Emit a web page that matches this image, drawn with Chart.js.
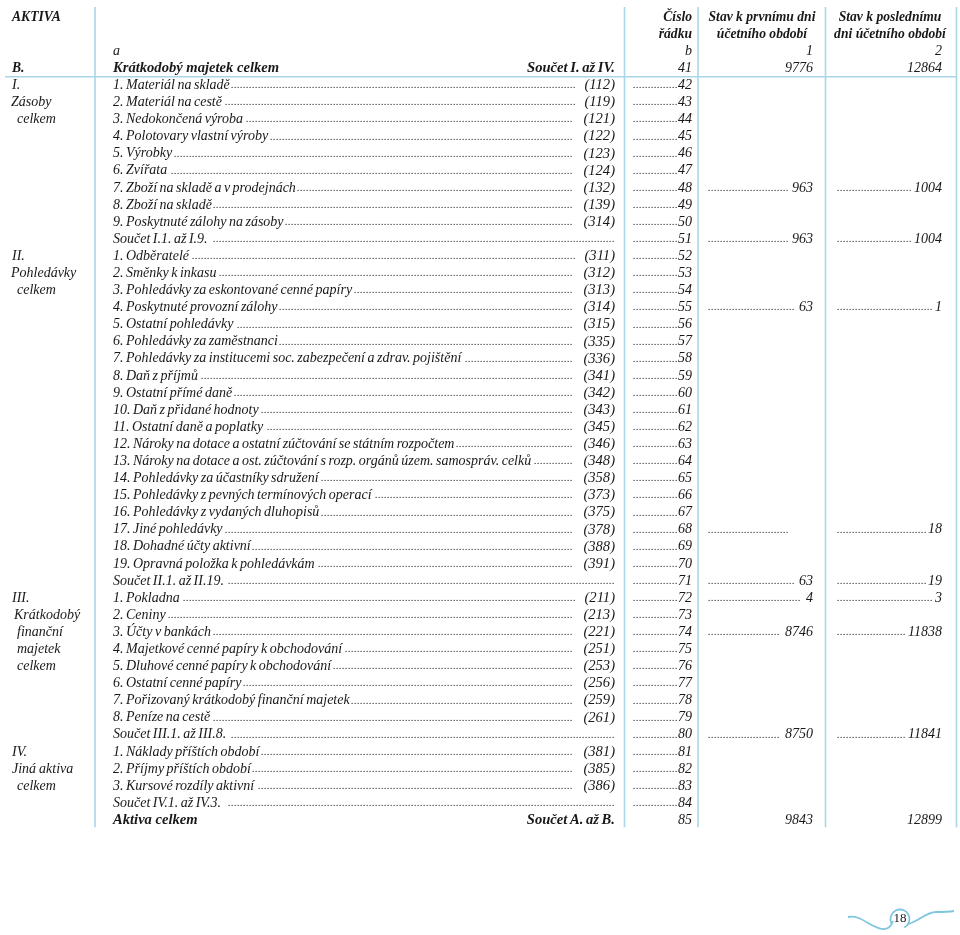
<!DOCTYPE html>
<html>
<head>
<meta charset="utf-8">
<script src="https://cdn.jsdelivr.net/npm/chart.js@4.4.0/dist/chart.umd.min.js"></script>
<style>
  html, body { margin: 0; padding: 0; background: #ffffff; }
  canvas { display: block; }
</style>
</head>
<body>
<canvas id="c" width="960" height="935"></canvas>
<script>
// ---------------- DATA (row 41 .. 85) ----------------
const rowNumbers = [41,42,43,44,45,46,47,48,49,50,51,52,53,54,55,56,57,58,59,60,61,62,63,
  64,65,66,67,68,69,70,71,72,73,74,75,76,77,78,79,80,81,82,83,84,85];

const sectionLabels = ['B.','I.','Zásoby','celkem','','','','','','','',
  'II.','Pohledávky','celkem','','','','','','','','','','','','','','','','','',
  'III.','Krátkodobý','finanční','majetek','celkem','','','','',
  'IV.','Jiná aktiva','celkem','',''];

const itemLabels = [
  'Krátkodobý majetek celkem',
  '1. Materiál na skladě',
  '2. Materiál na cestě',
  '3. Nedokončená výroba',
  '4. Polotovary vlastní výroby',
  '5. Výrobky',
  '6. Zvířata',
  '7. Zboží na skladě a v prodejnách',
  '8. Zboží na skladě',
  '9. Poskytnuté zálohy na zásoby',
  'Součet I.1. až I.9.',
  '1. Odběratelé',
  '2. Směnky k inkasu',
  '3. Pohledávky za eskontované cenné papíry',
  '4. Poskytnuté provozní zálohy',
  '5. Ostatní pohledávky',
  '6. Pohledávky za zaměstnanci',
  '7. Pohledávky za institucemi soc. zabezpečení a zdrav. pojištění',
  '8. Daň z příjmů',
  '9. Ostatní přímé daně',
  '10. Daň z přidané hodnoty',
  '11. Ostatní daně a poplatky',
  '12. Nároky na dotace a ostatní zúčtování se státním rozpočtem',
  '13. Nároky na dotace a ost. zúčtování s rozp. orgánů územ. samospráv. celků',
  '14. Pohledávky za účastníky sdružení',
  '15. Pohledávky z pevných termínových operací',
  '16. Pohledávky z vydaných dluhopisů',
  '17. Jiné pohledávky',
  '18. Dohadné účty aktivní',
  '19. Opravná položka k pohledávkám',
  'Součet II.1. až II.19.',
  '1. Pokladna',
  '2. Ceniny',
  '3. Účty v bankách',
  '4. Majetkové cenné papíry k obchodování',
  '5. Dluhové cenné papíry k obchodování',
  '6. Ostatní cenné papíry',
  '7. Pořizovaný krátkodobý finanční majetek',
  '8. Peníze na cestě',
  'Součet III.1. až III.8.',
  '1. Náklady příštích období',
  '2. Příjmy příštích období',
  '3. Kursové rozdíly aktivní',
  'Součet IV.1. až IV.3.',
  'Aktiva celkem'
];

const accountCodes = ['',
  '(112)','(119)','(121)','(122)','(123)','(124)','(132)','(139)','(314)','',
  '(311)','(312)','(313)','(314)','(315)','(335)','(336)','(341)','(342)','(343)','(345)',
  '(346)','(348)','(358)','(373)','(375)','(378)','(388)','(391)','',
  '(211)','(213)','(221)','(251)','(253)','(256)','(259)','(261)','',
  '(381)','(385)','(386)','',''];

const totalLabels = ['Součet I. až IV.','','','','','','','','','','','','','','','','','','','','','','',
  '','','','','','','','','','','','','','','','','','','','','','Součet A. až B.'];

// '' = leader dots without a value, null = empty cell
const firstPeriod = [9776, null,null,null,null,null,null, 963, null,null, 963,
  null,null,null, 63, null,null,null,null,null,null,null,null,null,null,null,null, '', null,null, 63,
  4, null, 8746, null,null,null,null,null, 8750,
  null,null,null,null, 9843];

const lastPeriod = [12864, null,null,null,null,null,null, 1004, null,null, 1004,
  null,null,null, 1, null,null,null,null,null,null,null,null,null,null,null,null, 18, null,null, 19,
  3, null, 11838, null,null,null,null,null, 11841,
  null,null,null,null, 12899];

// header texts
const headerAktiva = 'AKTIVA';
const headerColA = ['', '', 'a'];
const headerRowNo = ['Číslo', 'řádku', 'b'];
const headerFirst = ['Stav k prvnímu dni', 'účetního období', '1'];
const headerLast = ['Stav k poslednímu', 'dni účetního období', '2'];
const pageNumber = '18';

// ---------------- LAYOUT / STYLE ----------------
const rowKeys = ['h0', 'h1', 'h2'].concat(rowNumbers.map(String));
const FONT = '"Liberation Serif", "Times New Roman", serif';
const FS = 14;
const TEXT = '#1a1718';
const LINE = '#a9d7e7';
const COL = {
  section: 12, item: 113, codeRight: 615, itemDotsEnd: 616,
  rowDotsStart: 632, rowRight: 692,
  firstDotsStart: 708, firstRight: 813, firstCenter: 762,
  lastDotsStart: 835, lastRight: 942, lastCenter: 890,
  vlines: [95, 624.5, 698, 825.5, 956.5]
};
// per-label left offsets of the group captions (layout only)
const sectionIndent = { 'Zásoby': 11, 'celkem': 17, 'Pohledávky': 11, 'Krátkodobý': 14,
  'finanční': 17, 'majetek': 17, 'Jiná aktiva': 12 };

function drawDots(ctx, x0, x1, y) {
  ctx.save();
  ctx.font = 'italic 11px ' + FONT;
  ctx.textAlign = 'left';
  ctx.fillStyle = '#2a2627';
  const start = Math.ceil(x0 / 3) * 3;
  for (let x = start; x <= x1 - 2; x += 3) ctx.fillText('.', x, y);
  ctx.restore();
}

const tablePlugin = {
  id: 'tablePlugin',
  afterDraw(chart) {
    const ctx = chart.ctx;
    const xs = chart.scales.x, ys = chart.scales.y;
    const X = v => xs.getPixelForValue(v);
    const Y = key => ys.getPixelForValue(rowKeys.indexOf(key));
    const reg = 'italic ' + FS + 'px ' + FONT;
    const hbold = 'italic bold 13.6px ' + FONT;
    const bold = 'italic bold 14.6px ' + FONT;
    const codeFont = 'italic 14.6px ' + FONT;
    const setWS = v => { ctx.wordSpacing = v; };
    ctx.save();
    ctx.textBaseline = 'middle';
    ctx.fillStyle = TEXT;

    // grid lines
    ctx.strokeStyle = LINE;
    ctx.lineWidth = 1.6;
    const topY = Y('h0') - 10, botY = Y('85') + 7;
    COL.vlines.forEach(v => {
      ctx.beginPath(); ctx.moveTo(X(v), topY); ctx.lineTo(X(v), botY); ctx.stroke();
    });
    const hy = (Y('41') + Y('42')) / 2;
    ctx.beginPath(); ctx.moveTo(X(5), hy); ctx.lineTo(X(957), hy); ctx.stroke();

    // header
    setWS('0px');
    ctx.font = hbold; ctx.textAlign = 'left';
    ctx.fillText(headerAktiva, X(COL.section), Y('h0'));
    for (let i = 0; i < 3; i++) {
      const key = 'h' + i;
      ctx.font = i < 2 ? hbold : reg;
      if (headerColA[i]) { ctx.textAlign = 'left'; ctx.fillText(headerColA[i], X(COL.item), Y(key)); }
      ctx.textAlign = 'right'; ctx.fillText(headerRowNo[i], X(COL.rowRight), Y(key));
      if (i < 2) {
        ctx.textAlign = 'center';
        ctx.fillText(headerFirst[i], X(COL.firstCenter), Y(key));
        ctx.fillText(headerLast[i], X(COL.lastCenter), Y(key));
      } else {
        ctx.textAlign = 'right';
        ctx.fillText(headerFirst[i], X(COL.firstRight), Y(key));
        ctx.fillText(headerLast[i], X(COL.lastRight), Y(key));
      }
    }

    // body rows
    rowNumbers.forEach((n, i) => {
      const y = Y(String(n));
      const isBold = totalLabels[i] !== '';
      // section label
      const sl = sectionLabels[i];
      if (sl) {
        setWS(isBold ? '0px' : '-0.5px');
        ctx.font = isBold ? hbold : reg; ctx.textAlign = 'left';
        const ind = sectionIndent[sl] !== undefined ? sectionIndent[sl] : COL.section;
        ctx.fillText(sl, X(ind), y);
      }
      // item label
      setWS(isBold ? '0px' : '-1px');
      ctx.font = isBold ? bold : reg; ctx.textAlign = 'left';
      ctx.fillText(itemLabels[i], X(COL.item), y);
      const itemW = ctx.measureText(itemLabels[i]).width;
      if (isBold) {
        ctx.textAlign = 'right';
        setWS('-1px');
        ctx.fillText(totalLabels[i], X(COL.codeRight), y);
      } else {
        const sum = itemLabels[i].startsWith('Součet');
        let dotsEnd = X(COL.itemDotsEnd);
        if (accountCodes[i]) {
          ctx.font = codeFont;
          ctx.textAlign = 'right';
          ctx.fillText(accountCodes[i], X(COL.codeRight), y);
          dotsEnd = X(COL.codeRight) - ctx.measureText(accountCodes[i]).width - 9;
        }
        drawDots(ctx, X(COL.item) + itemW + (sum ? 4 : 1), dotsEnd, y);
      }
      setWS('0px');
      // row number
      ctx.font = reg; ctx.textAlign = 'right';
      ctx.fillText(String(n), X(COL.rowRight), y);
      if (!isBold) drawDots(ctx, X(COL.rowDotsStart), X(COL.rowRight) - ctx.measureText(String(n)).width - 1, y);
      // period values
      [[firstPeriod, COL.firstDotsStart, COL.firstRight, 4], [lastPeriod, COL.lastDotsStart, COL.lastRight, 2]]
        .forEach(([arr, ds, right, gap]) => {
          const v = arr[i];
          if (v === null) return;
          ctx.font = reg; ctx.textAlign = 'right';
          const s = String(v);
          if (s) ctx.fillText(s, X(right), y);
          if (!isBold) {
            const w = s ? ctx.measureText(s).width + gap : 25;
            drawDots(ctx, X(ds), X(right) - w, y);
          }
        });
    });

    // page-number ornament
    ctx.strokeStyle = '#7fc6de';
    ctx.lineWidth = 1.8;
    ctx.beginPath();
    ctx.moveTo(848, 917);
    ctx.bezierCurveTo(862, 914, 872, 930, 884, 929);
    ctx.bezierCurveTo(890, 929, 892, 924, 893, 921);
    ctx.stroke();
    ctx.beginPath();
    ctx.arc(900, 919, 9.5, Math.PI * 0.85, Math.PI * 2.35);
    ctx.stroke();
    ctx.beginPath();
    ctx.moveTo(908, 924);
    ctx.bezierCurveTo(918, 922, 926, 912, 936, 912);
    ctx.bezierCurveTo(944, 912, 948, 912, 954, 911);
    ctx.stroke();
    ctx.fillStyle = TEXT;
    ctx.font = '13px ' + FONT;
    ctx.textAlign = 'center';
    ctx.fillText(pageNumber, 900, 919);
    ctx.restore();
  }
};

new Chart(document.getElementById('c').getContext('2d'), {
  type: 'scatter',
  data: {
    datasets: [{
      data: rowNumbers.map((n, i) => ({ x: COL.rowRight, y: String(n) })),
      pointRadius: 0, showLine: false
    }]
  },
  options: {
    responsive: false,
    animation: false,
    events: [],
    layout: { padding: { top: 8.45, bottom: 106.2, left: 0, right: 0 } },
    scales: {
      x: { type: 'linear', min: 0, max: 960, display: false },
      y: { type: 'category', labels: rowKeys, offset: true, display: false }
    },
    plugins: { legend: { display: false }, tooltip: { enabled: false } }
  },
  plugins: [tablePlugin]
});
</script>
</body>
</html>
